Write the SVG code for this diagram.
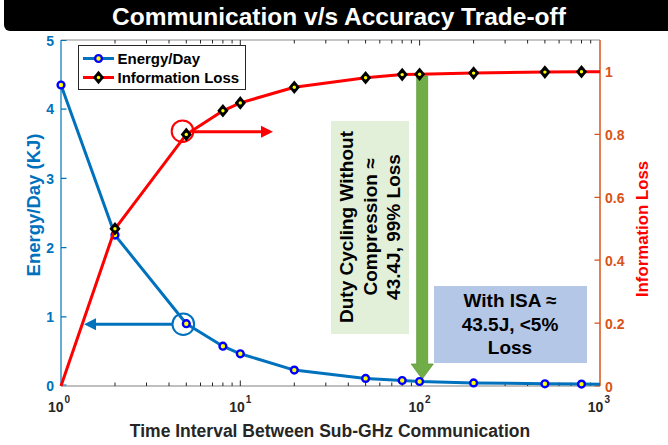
<svg xmlns="http://www.w3.org/2000/svg" width="668" height="445" viewBox="0 0 668 445">
<style>
  text { font-family: "Liberation Sans", Arial, sans-serif; font-weight: bold; }
  .tick { stroke: #262626; stroke-width: 1; }
  .lt { fill: #0072BD; font-size: 14px; text-anchor: end; }
  .rt { fill: #D95319; font-size: 14px; }
  .xt { fill: #262626; font-size: 14px; }
  .xs { fill: #262626; font-size: 10px; }
  .bl { fill: none; stroke: #0072BD; stroke-width: 3; stroke-linejoin: round; }
  .rl { fill: none; stroke: #FF0000; stroke-width: 3; stroke-linejoin: round; }
  .anno { font-size: 19px; fill: #000; text-anchor: middle; }
</style>
<defs>
  <g id="bm"><circle r="3.4" fill="#FFFF00" stroke="#0000FF" stroke-width="2.4"/></g>
  <g id="rm"><polygon points="0,-6.8 5.6,0 0,6.8 -5.6,0" fill="#000"/><circle r="1.7" fill="#FFFF00"/></g>
</defs>
<rect width="668" height="445" fill="#fff"/>

<g id="title">
  <rect x="4" y="-6" width="670" height="37" rx="6" fill="#000"/>
  <text x="339" y="25" font-size="24.5" fill="#fff" text-anchor="middle">Communication v/s Accuracy Trade-off</text>
</g>

<g id="annotations">
  <rect id="green-box" x="331" y="121" width="78" height="213" fill="#E2F0D9"/>
  <g id="green-text" transform="translate(0,227) rotate(-90)">
    <text class="anno" x="0" y="353">Duty Cycling Without</text>
    <text class="anno" x="0" y="377">Compression ≈</text>
    <text class="anno" x="0" y="400">43.4J, 99% Loss</text>
  </g>
  <rect id="blue-box" x="434" y="286" width="153" height="77" fill="#B4C7E7"/>
  <text class="anno" x="510" y="307">With ISA ≈</text>
  <text class="anno" x="510" y="331">43.5J, &lt;5%</text>
  <text class="anno" x="510" y="354">Loss</text>
  <polygon id="green-arrow" points="416.7,76 427.7,76 427.7,364 433.3,364 422.2,379 411.2,364 416.7,364" fill="#70AD47" stroke="#5E9A3C" stroke-width="0.8"/>
</g>

<g id="axes">
  <line x1="61" y1="40" x2="600" y2="40" stroke="#8c8c8c" stroke-width="1"/>
  <line x1="61" y1="386" x2="600" y2="386" stroke="#BFBFBF" stroke-width="2"/>
  <line x1="61" y1="40" x2="61" y2="386" stroke="#0072BD" stroke-width="1.2"/>
  <line x1="600" y1="40" x2="600" y2="386" stroke="#D95319" stroke-width="1.5"/>
  <g id="xticks">
    <path class="tick" d="M240.3,386v-5.5M419.6,386v-5.5M240.3,40v5.5M419.6,40v5.5
      M115,386v-3.5M146.5,386v-3.5M169,386v-3.5M186.3,386v-3.5M200.5,386v-3.5M212.5,386v-3.5M222.9,386v-3.5M232.1,386v-3.5
      M294.3,386v-3.5M325.8,386v-3.5M348.3,386v-3.5M365.6,386v-3.5M379.8,386v-3.5M391.8,386v-3.5M402.2,386v-3.5M411.4,386v-3.5
      M473.6,386v-3.5M505.1,386v-3.5M527.6,386v-3.5M544.9,386v-3.5M559.1,386v-3.5M571.1,386v-3.5M581.5,386v-3.5M590.7,386v-3.5
      M115,40v3.5M146.5,40v3.5M169,40v3.5M186.3,40v3.5M200.5,40v3.5M212.5,40v3.5M222.9,40v3.5M232.1,40v3.5
      M294.3,40v3.5M325.8,40v3.5M348.3,40v3.5M365.6,40v3.5M379.8,40v3.5M391.8,40v3.5M402.2,40v3.5M411.4,40v3.5
      M473.6,40v3.5M505.1,40v3.5M527.6,40v3.5M544.9,40v3.5M559.1,40v3.5M571.1,40v3.5M581.5,40v3.5M590.7,40v3.5"/>
  </g>
  <g id="yticks-left">
    <path d="M61,385h5.5M61,316.8h5.5M61,247.6h5.5M61,178.4h5.5M61,109.2h5.5M61,40.5h5.5" stroke="#0072BD" stroke-width="1.2"/>
    <text class="lt" x="54" y="391">0</text>
    <text class="lt" x="54" y="322">1</text>
    <text class="lt" x="54" y="252.5">2</text>
    <text class="lt" x="54" y="183.5">3</text>
    <text class="lt" x="54" y="114">4</text>
    <text class="lt" x="54" y="45.5">5</text>
  </g>
  <g id="yticks-right">
    <path d="M600,386h-5.5M600,323.1h-5.5M600,260.2h-5.5M600,197.3h-5.5M600,134.4h-5.5M600,71.5h-5.5" stroke="#D95319" stroke-width="1.2"/>
    <text class="rt" x="605" y="391.5">0</text>
    <text class="rt" x="605" y="328.5">0.2</text>
    <text class="rt" x="605" y="265.5">0.4</text>
    <text class="rt" x="605" y="202.5">0.6</text>
    <text class="rt" x="605" y="139.5">0.8</text>
    <text class="rt" x="605" y="76.5">1</text>
  </g>
  <g id="xlabels">
    <text class="xt" x="63.5" y="411.5" text-anchor="end">10</text><text class="xs" x="64.5" y="403">0</text>
    <text class="xt" x="244.8" y="411.5" text-anchor="end">10</text><text class="xs" x="245.8" y="403">1</text>
    <text class="xt" x="424.1" y="411.5" text-anchor="end">10</text><text class="xs" x="425.1" y="403">2</text>
    <text class="xt" x="603.4" y="411.5" text-anchor="end">10</text><text class="xs" x="604.4" y="403">3</text>
  </g>
  <text x="330" y="437" font-size="17.5" fill="#262626" text-anchor="middle">Time Interval Between Sub-GHz Communication</text>
  <text transform="translate(40,205) rotate(-90)" font-size="18.5" fill="#0072BD" text-anchor="middle">Energy/Day (KJ)</text>
  <text transform="translate(648.3,229) rotate(-90)" font-size="16.8" fill="#FF0000" text-anchor="middle">Information Loss</text>
</g>

<g id="connectors">
  <circle cx="182.5" cy="131.2" r="10.8" fill="none" stroke="#FF0000" stroke-width="2"/>
  <line x1="193" y1="131.7" x2="262" y2="131.7" stroke="#FF0000" stroke-width="3"/>
  <polygon points="261,125.7 273,131.7 261,137.7" fill="#FF0000"/>
  <circle cx="183.3" cy="324.2" r="10.8" fill="none" stroke="#0072BD" stroke-width="2"/>
  <line x1="172.5" y1="324.3" x2="95" y2="324.3" stroke="#0072BD" stroke-width="3"/>
  <polygon points="96,318.3 84,324.3 96,330.3" fill="#0072BD"/>
</g>

<g id="series-energy">
  <polyline class="bl" points="61,85 115,235.1 186.3,323.7 222.9,346.2 240.3,353.8 294.3,370.1 365.6,378.4 402.2,380.5 419.6,381.5 473.6,382.9 544.9,383.8 581.5,384.1 600,384.2"/>
  <use href="#bm" x="61" y="85"/><use href="#bm" x="115" y="235.1"/><use href="#bm" x="186.3" y="323.7"/>
  <use href="#bm" x="222.9" y="346.2"/><use href="#bm" x="240.3" y="353.8"/><use href="#bm" x="294.3" y="370.1"/>
  <use href="#bm" x="365.6" y="378.4"/><use href="#bm" x="402.2" y="380.5"/><use href="#bm" x="419.6" y="381.5"/>
  <use href="#bm" x="473.6" y="382.9"/><use href="#bm" x="544.9" y="383.8"/><use href="#bm" x="581.5" y="384.1"/>
</g>

<g id="series-loss">
  <polyline class="rl" points="61,386 115,228.8 186.3,134.4 222.9,110.8 240.3,102.9 294.3,87.2 365.6,77.8 402.2,74.6 419.6,74.3 473.6,73.1 544.9,72.1 581.5,71.8 600,71.7"/>
  <use href="#rm" x="115" y="228.8"/><use href="#rm" x="186.3" y="134.4"/>
  <use href="#rm" x="222.9" y="110.8"/><use href="#rm" x="240.3" y="102.9"/><use href="#rm" x="294.3" y="87.2"/>
  <use href="#rm" x="365.6" y="77.8"/><use href="#rm" x="402.2" y="74.6"/><use href="#rm" x="419.6" y="74.3"/>
  <use href="#rm" x="473.6" y="73.1"/><use href="#rm" x="544.9" y="72.1"/><use href="#rm" x="581.5" y="71.8"/>
</g>

<g id="legend">
  <rect x="78.5" y="45.5" width="167" height="44" fill="#fff" stroke="#262626" stroke-width="1"/>
  <line x1="83" y1="58.5" x2="114" y2="58.5" stroke="#0072BD" stroke-width="3"/>
  <use href="#bm" x="98.5" y="58.5"/>
  <text x="117.5" y="64" font-size="15" fill="#000">Energy/Day</text>
  <line x1="83" y1="77.5" x2="114" y2="77.5" stroke="#FF0000" stroke-width="3"/>
  <use href="#rm" x="98.5" y="77.5"/>
  <text x="117.5" y="83" font-size="15" fill="#000">Information Loss</text>
</g>
</svg>
